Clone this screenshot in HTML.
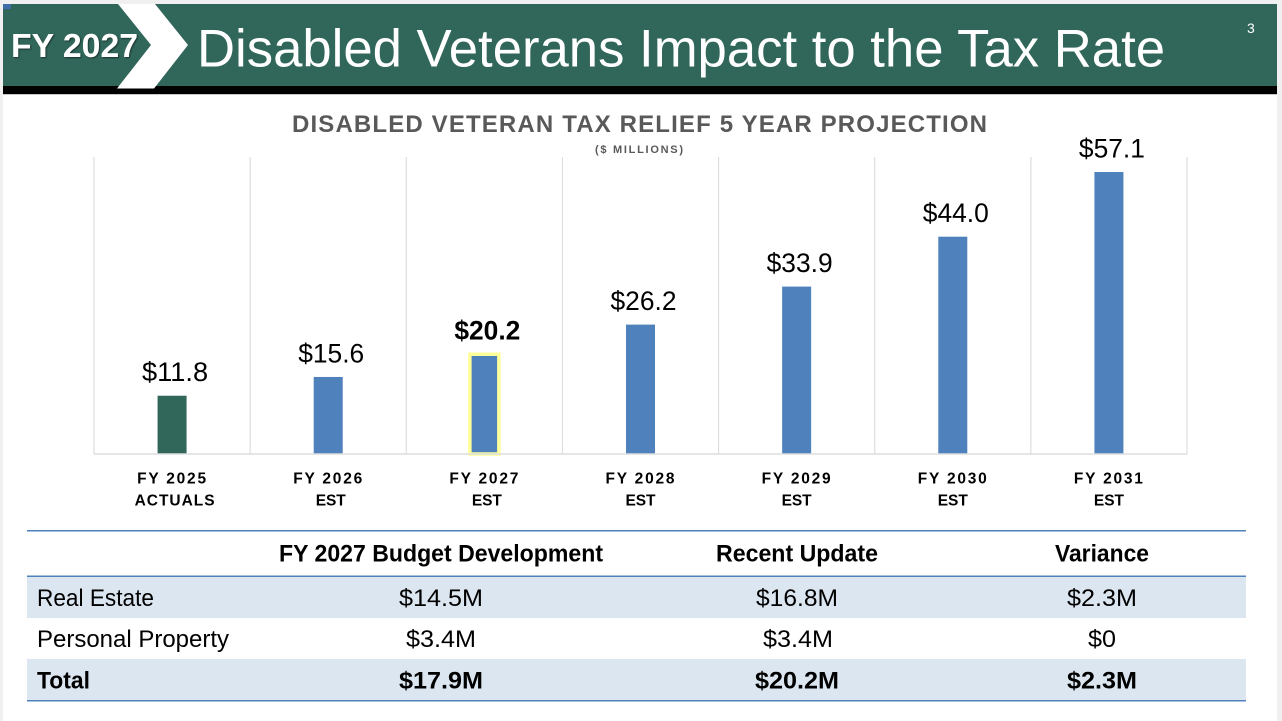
<!DOCTYPE html>
<html lang="en">
<head>
<meta charset="utf-8">
<title>Disabled Veterans Impact to the Tax Rate</title>
<style>
html,body{margin:0;padding:0;width:1282px;height:721px;overflow:hidden;background:#f0f0f0}
svg{display:block}
text{font-family:"Liberation Sans","DejaVu Sans",sans-serif;fill:#000}
</style>
</head>
<body>
<svg id="slide" xmlns="http://www.w3.org/2000/svg" width="1282" height="721" viewBox="0 0 1282 721">
  <defs>
    <filter id="shadow" x="-10%" y="-20%" width="120%" height="150%">
      <feDropShadow dx="1" dy="1" stdDeviation="0.8" flood-color="#000" flood-opacity="0.5"/>
    </filter>
  </defs>
  <rect x="3" y="4" width="1274" height="717" fill="#ffffff"/>
  <g>
    <rect x="3" y="4" width="1274" height="82" fill="#31665a"/>
    <rect x="3" y="86" width="1274" height="8" fill="#000000"/>
    <rect x="3" y="94" width="1274" height="1" fill="#c8c8c8"/>
    <rect x="3" y="4" width="8" height="5" fill="#3f6da8"/>
    <polygon points="118,4 155,4 188,45 154,88.5 117,88.5 151,45" fill="#ffffff"/>
    <text x="11" y="57" font-size="33" font-weight="700" textLength="127" lengthAdjust="spacingAndGlyphs" style="fill:#fff" filter="url(#shadow)">FY 2027</text>
    <text x="197" y="66.5" font-size="53" textLength="968" lengthAdjust="spacingAndGlyphs" style="fill:#fff">Disabled Veterans Impact to the Tax Rate</text>
    <text x="1247" y="33" font-size="14" style="fill:#fff">3</text>
  </g>
  <g id="chart">
    <text x="292" y="132" font-size="24" font-weight="700" textLength="695" lengthAdjust="spacing" style="fill:#595959">DISABLED VETERAN TAX RELIEF 5 YEAR PROJECTION</text>
    <text x="595" y="153" font-size="11" font-weight="700" textLength="88" lengthAdjust="spacing" style="fill:#595959">($ MILLIONS)</text>
  </g>
  <g>
    <rect x="27" y="577" width="1219" height="41" fill="#dce6f1"/>
    <rect x="27" y="659" width="1219" height="41" fill="#dce6f1"/>
    <rect x="27" y="530" width="1219" height="1.5" fill="#4f81bd"/>
    <rect x="27" y="575.5" width="1219" height="1.5" fill="#4f81bd"/>
    <rect x="27" y="700" width="1219" height="1.5" fill="#4f81bd"/>

    <text x="279" y="561.5" font-size="24" font-weight="700" textLength="324" lengthAdjust="spacingAndGlyphs">FY 2027 Budget Development</text>
    <text x="716" y="561.5" font-size="24" font-weight="700" textLength="162" lengthAdjust="spacingAndGlyphs">Recent Update</text>
    <text x="1055" y="561.5" font-size="24" font-weight="700" textLength="94" lengthAdjust="spacingAndGlyphs">Variance</text>

    <text x="37" y="606" font-size="24.5" textLength="117" lengthAdjust="spacingAndGlyphs">Real Estate</text>
    <text x="399" y="606" font-size="24.5" textLength="84" lengthAdjust="spacingAndGlyphs">$14.5M</text>
    <text x="756" y="606" font-size="24.5" textLength="82" lengthAdjust="spacingAndGlyphs">$16.8M</text>
    <text x="1067" y="606" font-size="24.5" textLength="70" lengthAdjust="spacingAndGlyphs">$2.3M</text>

    <text x="37" y="647" font-size="24.5" textLength="192" lengthAdjust="spacingAndGlyphs">Personal Property</text>
    <text x="406" y="647" font-size="24.5" textLength="70" lengthAdjust="spacingAndGlyphs">$3.4M</text>
    <text x="763" y="647" font-size="24.5" textLength="70" lengthAdjust="spacingAndGlyphs">$3.4M</text>
    <text x="1088" y="647" font-size="24.5" textLength="28" lengthAdjust="spacingAndGlyphs">$0</text>

    <text x="37" y="688.5" font-size="24.5" font-weight="700" textLength="53" lengthAdjust="spacingAndGlyphs">Total</text>
    <text x="399" y="688.5" font-size="24.5" font-weight="700" textLength="84" lengthAdjust="spacingAndGlyphs">$17.9M</text>
    <text x="755" y="688.5" font-size="24.5" font-weight="700" textLength="84" lengthAdjust="spacingAndGlyphs">$20.2M</text>
    <text x="1067" y="688.5" font-size="24.5" font-weight="700" textLength="70" lengthAdjust="spacingAndGlyphs">$2.3M</text>
  </g>
</svg>
<script>
const categories = ['FY 2025', 'FY 2026', 'FY 2027', 'FY 2028', 'FY 2029', 'FY 2030', 'FY 2031'];
const subLabels = ['ACTUALS', 'EST', 'EST', 'EST', 'EST', 'EST', 'EST'];
const values = [11.8, 15.6, 20.2, 26.2, 33.9, 44.0, 57.1];
const valueLabels = ['$11.8', '$15.6', '$20.2', '$26.2', '$33.9', '$44.0', '$57.1'];
const actualCategory = 'FY 2025';
const highlightedCategory = 'FY 2027';

const NS = 'http://www.w3.org/2000/svg';
const chart = document.getElementById('chart');
const plotLeft = 94, plotRight = 1187, plotTop = 157, baseline = 454;
const pxPerUnit = 282 / 57.1;
const band = (plotRight - plotLeft) / categories.length;
const barWidth = 29;

function xAt(i) { return plotLeft + band * i; }
function xCenter(i) { return xAt(i) + band / 2; }
function yAt(v) { return baseline - v * pxPerUnit; }
function make(tag, attrs) {
  const el = document.createElementNS(NS, tag);
  Object.keys(attrs).forEach(function (k) { el.setAttribute(k, attrs[k]); });
  return el;
}

for (let i = 0; i <= categories.length; i++) {
  const grid = make('line', { x1: xAt(i), x2: xAt(i), y1: plotTop, y2: baseline, stroke: '#dedede', 'stroke-width': 1.2 });
  
  
  chart.appendChild(grid);
}

categories.forEach(function (cat, i) {
  const top = yAt(values[i]);
  const left = xCenter(i) - barWidth / 2;
  const isHighlighted = cat === highlightedCategory;
  const fill = cat === actualCategory ? '#31665a' : '#4f81bd';

  const bar = make('rect', { x: left, y: top, width: barWidth, height: baseline - top, fill: fill });
  
  
  chart.appendChild(bar);

  if (isHighlighted) {
    const ring = make('rect', { x: left, y: top, width: barWidth, height: baseline - top, fill: 'none', stroke: '#ffff99', 'stroke-width': 3.5 });
    
    
    chart.appendChild(ring);
  }

  const val = make('text', { x: xCenter(i) + 3, y: top - 14.5, 'text-anchor': 'middle', 'font-size': 27, 'font-weight': isHighlighted ? 700 : 400, textLength: 66, lengthAdjust: 'spacingAndGlyphs' });
  val.textContent = valueLabels[i];
  
  
  chart.appendChild(val);

  const tick = make('text', { x: xCenter(i) - 0.5, y: 483.5, 'text-anchor': 'middle', 'font-size': 15.5, 'font-weight': 700, textLength: 69, lengthAdjust: 'spacing' });
  tick.textContent = cat;
  
  
  chart.appendChild(tick);

  const isLong = subLabels[i].length > 3;
  const subOffset = i < 3 ? 2.5 : 0;
  const sub = make('text', { x: xCenter(i) + subOffset, y: 505.5, 'text-anchor': 'middle', 'font-size': 15.5, 'font-weight': 700, textLength: isLong ? 80 : 30, lengthAdjust: 'spacing' });
  sub.textContent = subLabels[i];
  
  
  chart.appendChild(sub);
});

const axis = make('line', { x1: plotLeft, x2: plotRight, y1: baseline, y2: baseline, stroke: '#dedede', 'stroke-width': 1.5 });


chart.appendChild(axis);
</script>
</body>
</html>
